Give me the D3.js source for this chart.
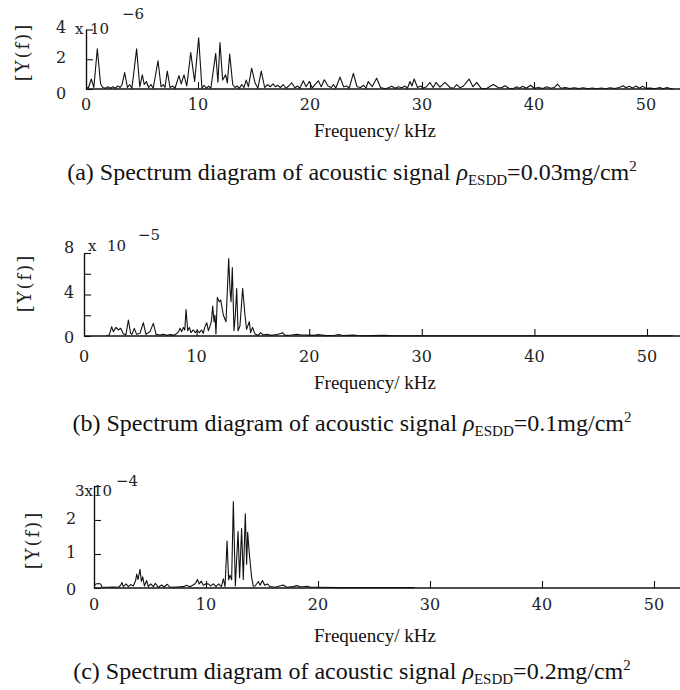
<!DOCTYPE html>
<html><head><meta charset="utf-8">
<script src="https://cdn.jsdelivr.net/npm/d3@7/dist/d3.min.js"></script>
<style>body{margin:0;background:#fff}svg{display:block}</style>
</head><body><svg id="c" width="680" height="690"></svg>
<script>
// ---- data (frequency kHz, amplitude in units of the panel multiplier) ----
const freqTicks = [0, 10, 20, 30, 40, 50];
const yTicksA = [0, 2, 4];        const yLabelsA = [0, 2, 4];
const yTicksB = [0, 2, 4, 6, 8];  const yLabelsB = [0, 4, 8];
const yTicksC = [0, 1, 2, 3];     const yLabelsC = [0, 1, 2];
const multipliers = ["x", "x", "3x10"];
const exponents = ["−6", "−5", "−4"];
const captionValues = ["0.03", "0.1", "0.2"];
const captionLetters = ["(a)", "(b)", "(c)"];

const spectrumA = [[0.0,0.15],[0.2,0.05],[0.48,0.67],[0.7,0.1],[1.01,2.7],[1.3,0.35],[1.5,0.1],[1.75,0.05],[1.95,0.15],[2.2,0.05],[2.4,0.15],[2.6,0.05],[2.85,0.2],[3.05,0.1],[3.2,0.25],[3.45,1.1],[3.7,0.1],[3.9,0.3],[4.1,0.05],[4.52,2.7],[4.8,0.15],[5.03,0.95],[5.2,0.3],[5.39,0.5],[5.6,0.1],[5.8,0.3],[6.0,0.05],[6.43,1.9],[6.7,0.15],[6.9,0.3],[7.05,0.1],[7.26,1.2],[7.5,0.1],[7.75,0.2],[7.95,0.05],[8.3,0.9],[8.5,0.35],[8.75,0.95],[9.0,0.2],[9.35,2.45],[9.7,0.5],[10.06,3.45],[10.35,0.05],[10.55,0.25],[10.75,0.05],[10.95,0.2],[11.15,0.05],[11.58,2.4],[11.78,0.45],[11.96,3.13],[12.2,0.6],[12.47,0.95],[12.62,0.4],[12.83,2.35],[13.1,0.3],[13.3,0.1],[13.5,0.2],[13.7,0.05],[13.9,0.3],[14.1,0.1],[14.31,0.6],[14.5,0.15],[14.79,1.4],[15.1,0.4],[15.35,0.05],[15.65,1.2],[15.95,0.1],[16.2,0.3],[16.45,0.15],[16.7,0.35],[16.9,0.15],[17.1,0.25],[17.35,0.1],[17.6,0.3],[17.85,0.05],[18.1,0.2],[18.36,0.42],[18.65,0.08],[18.9,0.2],[19.1,0.05],[19.4,0.55],[19.65,0.15],[19.94,0.5],[20.2,0.08],[20.45,0.3],[20.74,0.55],[21.0,0.15],[21.28,0.62],[21.6,0.2],[21.9,0.1],[22.1,0.3],[22.3,0.05],[22.68,0.8],[23.0,0.15],[23.3,0.2],[23.5,0.05],[23.87,1.05],[24.2,0.15],[24.5,0.1],[24.8,0.25],[25.0,0.05],[25.2,0.5],[25.55,0.15],[25.95,0.72],[26.3,0.1],[26.7,0.02],[27.0,0.08],[27.3,0.18],[27.6,0.05],[27.9,0.15],[28.2,0.08],[28.5,0.2],[28.7,0.05],[28.93,0.5],[29.1,0.2],[29.3,0.67],[29.6,0.1],[29.9,0.2],[30.1,0.05],[30.4,0.15],[30.71,0.44],[31.0,0.1],[31.25,0.44],[31.6,0.12],[32.05,0.44],[32.5,0.1],[32.8,0.05],[33.1,0.3],[33.4,0.08],[33.7,0.2],[34.2,0.67],[34.55,0.15],[34.88,0.44],[35.3,0.02],[35.8,0.05],[36.37,0.3],[36.8,0.1],[37.1,0.08],[37.4,0.22],[37.8,0.03],[38.2,0.05],[38.45,0.15],[38.7,0.05],[39.0,0.18],[39.3,0.05],[39.7,0.25],[40.0,0.05],[40.4,0.1],[40.8,0.03],[41.13,0.15],[41.5,0.05],[41.8,0.1],[42.1,0.33],[42.4,0.05],[42.8,0.1],[43.2,0.03],[43.6,0.08],[44.0,0.03],[44.4,0.08],[44.8,0.02],[45.2,0.07],[45.6,0.02],[46.0,0.07],[46.4,0.02],[46.8,0.08],[47.2,0.03],[47.6,0.1],[47.98,0.22],[48.2,0.08],[48.5,0.18],[48.8,0.06],[49.1,0.2],[49.4,0.05],[49.7,0.18],[50.0,0.04],[50.4,0.06],[50.8,0.02],[51.25,0.1],[51.5,0.02],[51.9,0.1],[52.2,0.02],[52.4,0.02]];

const spectrumB = [[2.0,0.05],[2.25,0.1],[2.46,0.9],[2.6,0.42],[2.84,0.83],[3.05,0.58],[3.26,0.74],[3.5,0.2],[3.73,0.13],[3.94,1.54],[4.14,0.26],[4.26,0.16],[4.47,0.74],[4.67,0.16],[4.97,0.26],[5.27,1.28],[5.5,0.16],[5.71,0.32],[5.86,0.42],[6.16,1.22],[6.4,0.16],[6.75,0.1],[7.05,0.16],[7.35,0.06],[7.7,0.13],[8.0,0.06],[8.24,0.26],[8.41,0.42],[8.53,0.74],[8.68,0.42],[8.83,0.83],[8.95,0.58],[9.06,2.56],[9.21,0.51],[9.36,0.83],[9.5,0.32],[9.71,0.58],[9.89,0.32],[10.07,0.51],[10.24,0.32],[10.45,0.58],[10.6,0.26],[10.72,0.83],[10.9,1.28],[11.04,0.51],[11.19,0.96],[11.31,1.38],[11.43,2.88],[11.55,1.38],[11.63,2.0],[11.72,0.2],[11.84,3.72],[12.02,3.3],[12.14,3.46],[12.38,2.0],[12.61,1.38],[12.85,7.47],[12.97,4.4],[13.06,3.3],[13.17,6.6],[13.32,0.51],[13.44,2.0],[13.56,4.58],[13.68,0.51],[13.85,0.96],[14.09,4.58],[14.3,2.0],[14.44,0.64],[14.68,1.38],[14.8,0.32],[14.97,0.83],[15.18,0.2],[15.48,0.06],[15.68,0.32],[15.92,0.1],[16.22,0.16],[16.66,0.06],[17.1,0.13],[17.64,0.32],[17.85,0.06],[18.44,0.1],[18.89,0.16],[19.33,0.1],[19.9,0.08],[20.4,0.06],[20.8,0.13],[21.5,0.04],[22.2,0.05],[22.6,0.15],[23.0,0.04],[23.9,0.08],[24.5,0.03],[25.5,0.04],[26.7,0.06],[27.5,0.03],[29,0.03],[31,0.02],[34,0.02],[37,0.02],[40,0.02],[44,0.02],[48,0.02],[52.3,0.02]];

const spectrumC = [[0.0,0.06],[0.18,0.12],[0.39,0.13],[0.6,0.12],[0.71,0.02],[1.2,0.02],[1.7,0.03],[2.17,0.02],[2.38,0.08],[2.5,0.16],[2.62,0.04],[2.86,0.12],[3.07,0.04],[3.27,0.1],[3.51,0.06],[3.72,0.22],[3.81,0.41],[3.93,0.25],[4.11,0.55],[4.23,0.19],[4.35,0.33],[4.5,0.06],[4.7,0.22],[4.85,0.04],[5.06,0.12],[5.3,0.04],[5.48,0.14],[5.74,0.02],[6.04,0.09],[6.25,0.03],[6.55,0.11],[6.79,0.02],[7.38,0.03],[7.98,0.04],[8.27,0.08],[8.57,0.04],[8.93,0.1],[9.11,0.16],[9.23,0.25],[9.4,0.12],[9.58,0.2],[9.76,0.08],[9.97,0.12],[10.2,0.12],[10.4,0.06],[10.65,0.12],[10.89,0.04],[11.13,0.12],[11.37,0.04],[11.55,0.27],[11.7,0.04],[11.88,1.38],[12.02,0.24],[12.14,0.38],[12.29,0.24],[12.44,2.54],[12.62,0.06],[12.86,1.66],[13.0,0.3],[13.18,1.75],[13.33,0.25],[13.51,2.18],[13.63,0.7],[13.72,1.64],[13.87,1.0],[14.08,0.3],[14.23,0.05],[14.38,0.06],[14.68,0.19],[14.83,0.08],[15.04,0.22],[15.24,0.08],[15.48,0.12],[15.71,0.04],[16.16,0.02],[16.9,0.09],[17.2,0.02],[17.8,0.04],[18.1,0.07],[18.5,0.03],[19.0,0.05],[19.4,0.02],[20.0,0.02],[22,0.01],[25,0.01],[28.6,0.01]];

// ---- layout ----
const panels = [
  {data: spectrumA, yMax: 4, yTicks: yTicksA, yLabels: yLabelsA, x0: 86, x50: 646, yBase: 89, yTop: 29.5,
   xLabY: 104, yLabX: 61, ylab: [23, 52], xTitleY: 137, capY: 180,
   mult: {x: 75, y: 29, ten: 90, expX: 122, expY: 14}},
  {data: spectrumB, yMax: 8, yTicks: yTicksB, yLabels: yLabelsB, x0: 84, x50: 647, yBase: 336, yTop: 253,
   xLabY: 356, yLabX: 69, ylab: [25, 283], xTitleY: 389, capY: 431,
   mult: {x: 88, y: 246, ten: 107, expX: 138, expY: 235}},
  {data: spectrumC, yMax: 3, yTicks: yTicksC, yLabels: yLabelsC, x0: 94, x50: 654, yBase: 588, yTop: 486,
   xLabY: 604, yLabX: 71, ylab: [33, 540], xTitleY: 642, capY: 679,
   mult: {x: 75, y: 491, ten: null, expX: 116, expY: 481}}
];

const svg = d3.select("#c");
const tickFont = "'DejaVu Serif', serif";
const textFont = "'Liberation Serif', 'Times New Roman', serif";

panels.forEach((p, i) => {
  const x = d3.scaleLinear().domain([0, 50]).range([p.x0, p.x50]);
  const y = d3.scaleLinear().domain([0, p.yMax]).range([p.yBase, p.yTop]);
  const g = svg.append("g");

  // x axis: ticks inward
  const xa = g.append("g").attr("transform", `translate(0,${p.yBase})`)
    .call(d3.axisBottom(x).tickValues(freqTicks.slice(1)).tickSizeInner(-7).tickSizeOuter(0).tickFormat(""));
  xa.select(".domain").remove();
  xa.selectAll(".tick line").attr("stroke", "#111").attr("stroke-width", 1.1);
  g.append("line").attr("x1", x(0)).attr("x2", 680).attr("y1", p.yBase).attr("y2", p.yBase)
    .attr("stroke", "#111").attr("stroke-width", 1.4);

  // y axis
  const ya = g.append("g").attr("transform", `translate(${x(0)},0)`)
    .call(d3.axisLeft(y).tickValues(p.yTicks).tickSizeInner(-7).tickSizeOuter(0).tickFormat(""));
  ya.select(".domain").attr("stroke", "#111").attr("stroke-width", 1.4);
  ya.selectAll(".tick line").attr("stroke", "#111").attr("stroke-width", 1.1);

  // spectrum line
  const line = d3.line().x(d => x(d[0])).y(d => y(d[1]));
  g.append("path").datum(p.data).attr("d", line)
    .attr("fill", "none").attr("stroke", "#111").attr("stroke-width", 1.1).attr("stroke-linejoin", "round");

  // x tick labels
  g.selectAll(".xl").data(freqTicks).enter().append("text")
    .attr("x", d => x(d)).attr("y", p.xLabY).attr("dy", "0.35em")
    .attr("text-anchor", "middle").attr("font-family", tickFont).attr("font-size", 16).attr("fill", "#222")
    .text(d => d);

  // y tick labels
  g.selectAll(".yl").data(p.yLabels).enter().append("text")
    .attr("x", p.yLabX)
    .attr("y", d => d === 0 ? y(d) + (i === 0 ? 4 : 1) : y(d) + (i === 1 && d === p.yMax ? -6 : -2))
    .attr("dy", "0.35em").attr("text-anchor", "middle")
    .attr("font-family", tickFont).attr("font-size", 16).attr("fill", "#222")
    .text(d => d);

  // multiplier
  const m = p.mult;
  g.append("text").attr("x", m.x).attr("y", m.y).attr("dy", "0.35em")
    .attr("font-family", tickFont).attr("font-size", 15).attr("fill", "#222").text(multipliers[i]);
  if (m.ten !== null) {
    g.append("text").attr("x", m.ten).attr("y", m.y).attr("dy", "0.35em")
      .attr("font-family", tickFont).attr("font-size", 15).attr("fill", "#222").text("10");
  }
  g.append("text").attr("x", m.expX).attr("y", m.expY).attr("dy", "0.35em")
    .attr("font-family", tickFont).attr("font-size", 15).attr("fill", "#222").text(exponents[i]);

  // y title
  g.append("text").attr("transform", `translate(${p.ylab[0]},${p.ylab[1]}) rotate(-90)`)
    .attr("text-anchor", "middle").attr("dy", "0.35em")
    .attr("font-family", tickFont).attr("font-size", 18).attr("letter-spacing", 2).attr("fill", "#222")
    .text("[Y(f)]");

  // x title
  g.append("text").attr("x", 375).attr("y", p.xTitleY).attr("text-anchor", "middle")
    .attr("font-family", textFont).attr("font-size", 19).attr("fill", "#111").text("Frequency/ kHz");

  // caption
  const cap = g.append("text").attr("x", 352).attr("y", p.capY).attr("text-anchor", "middle")
    .attr("font-family", textFont).attr("font-size", 24).attr("fill", "#111");
  cap.append("tspan").text(captionLetters[i] + " Spectrum diagram of acoustic signal ");
  cap.append("tspan").attr("font-style", "italic").text("ρ");
  cap.append("tspan").attr("font-size", 15).attr("dy", 5).text("ESDD");
  cap.append("tspan").attr("dy", -5).text("=" + captionValues[i] + "mg/cm");
  cap.append("tspan").attr("font-size", 15).attr("dy", -9).text("2");
});
</script>
</body></html>
